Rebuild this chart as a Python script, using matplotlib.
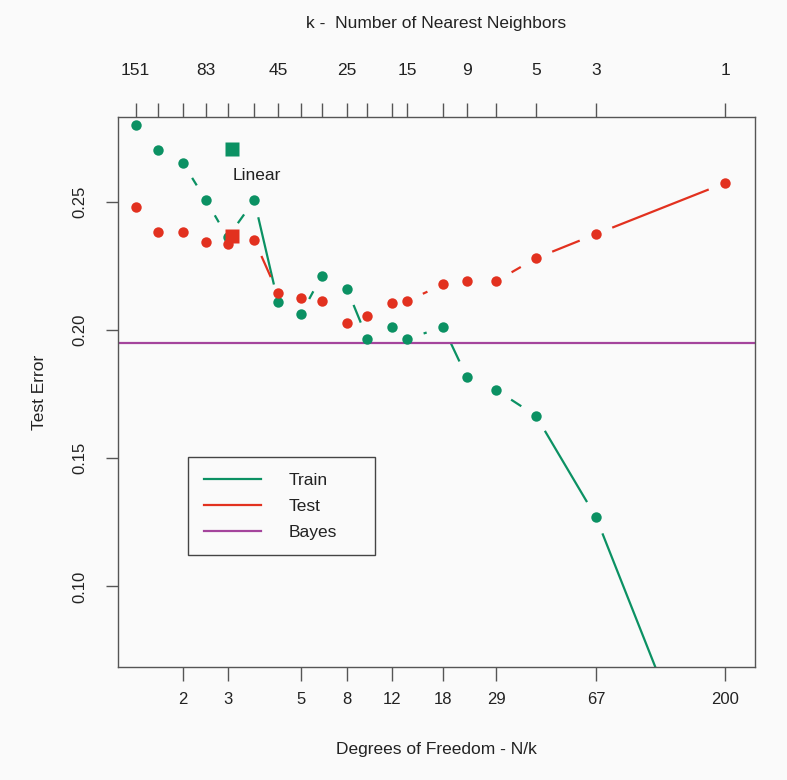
import numpy as np
import matplotlib
matplotlib.use('Agg')
import matplotlib.pyplot as plt
from matplotlib.lines import Line2D

plt.rcParams['font.family'] = ['Liberation Sans', 'DejaVu Sans']

N = 200
k_values = [151, 125, 101, 83, 69, 55, 45, 37, 31, 25, 21, 17, 15, 11, 9, 7, 5, 3, 1]
train_err = [0.280, 0.270, 0.265, 0.2505, 0.236, 0.2505, 0.211, 0.206, 0.221, 0.216,
             0.1965, 0.201, 0.1965, 0.201, 0.1815, 0.1765, 0.1665, 0.127, 0.0]
test_err = [0.2477, 0.238, 0.2382, 0.2341, 0.2333, 0.235, 0.2143, 0.2124, 0.2112, 0.2027,
            0.2055, 0.2103, 0.2112, 0.2177, 0.219, 0.219, 0.2279, 0.2373, 0.2572]
linear_df = 3
linear_train = 0.2704
linear_test = 0.2365
bayes_err = 0.195

top_labels = [151, 83, 45, 25, 15, 9, 5, 3, 1]
bottom_k = [101, 69, 37, 25, 17, 11, 7, 3, 1]
bottom_labels = ['2', '3', '5', '8', '12', '18', '29', '67', '200']

green = '#0b9163'
red = '#e2311f'
purple = '#a4449c'
frame = '#555555'

df = np.array([N / k for k in k_values])

fig = plt.figure(figsize=(7.87, 7.80), dpi=100, facecolor='#fafafa')
ax = fig.add_axes([0.150, 0.1449, 0.809, 0.705])
ax.set_facecolor('#fafafa')
ax.set_xscale('log')
ax.set_xlim(1.14, 257.6)
ax.set_ylim(0.0686, 0.2829)


def gapped(x, y, color, gap=17.5):
    # R type="b": segments between points, cut short around each point
    pts = ax.transData.transform(np.column_stack([x, y]))
    inv = ax.transData.inverted()
    for p, q in zip(pts[:-1], pts[1:]):
        d = q - p
        L = np.hypot(*d)
        if L <= 2 * gap + 2:
            continue
        u = d / L
        a, b = inv.transform([p + u * gap, q - u * gap])
        ax.plot([a[0], b[0]], [a[1], b[1]], color=color, lw=1.6, solid_capstyle='butt', zorder=2)


gapped(df, train_err, green)
gapped(df, test_err, red)
ax.axhline(bayes_err, color=purple, lw=1.6, zorder=2)

ax.plot(df, train_err, 'o', color=green, ms=7.5, mec='none', zorder=3)
ax.plot(df, test_err, 'o', color=red, ms=7.5, mec='none', zorder=4)
ax.plot([linear_df], [linear_train], 's', color=green, ms=10, mec='none', zorder=5)
ax.plot([linear_df], [linear_test], 's', color=red, ms=10, mec='none', zorder=5)
ax.text(linear_df * 1.01, 0.2600, 'Linear', fontsize=12.5, ha='left', va='center', color='#222222')

for s in ax.spines.values():
    s.set_color(frame)
    s.set_linewidth(1.0)

ax.set_xticks([N / k for k in bottom_k])
ax.set_xticklabels(bottom_labels)
ax.minorticks_off()
ax.set_yticks([0.10, 0.15, 0.20, 0.25])
ax.set_yticklabels(['0.10', '0.15', '0.20', '0.25'], rotation=90, va='center')
ax.tick_params(axis='x', length=10, width=1, color=frame, pad=8, labelsize=12, labelcolor='#222222')
ax.tick_params(axis='y', length=9, width=1, color=frame, pad=13, labelsize=12, labelcolor='#222222')

ax2 = ax.twiny()
ax2.set_xscale('log')
ax2.set_xlim(ax.get_xlim())
ax2.set_xticks(df)
ax2.set_xticklabels([str(k) if k in top_labels else '' for k in k_values])
ax2.minorticks_off()
ax2.tick_params(axis='x', length=10, width=1, color=frame, pad=18, labelsize=12.5, labelcolor='#222222')
for s in ax2.spines.values():
    s.set_visible(False)

ax.set_xlabel('Degrees of Freedom - N/k', fontsize=12.5, labelpad=25, color='#222222')
ax.set_ylabel('Test Error', fontsize=12.5, labelpad=18, color='#222222')
ax2.set_xlabel('k -  Number of Nearest Neighbors', fontsize=12.5, labelpad=25, color='#222222')

handles = [Line2D([], [], color=green, lw=1.6),
           Line2D([], [], color=red, lw=1.6),
           Line2D([], [], color=purple, lw=1.6)]
leg = ax.legend(handles, ['Train', 'Test', 'Bayes'], loc='upper left', mode='expand',
                bbox_to_anchor=(0.2389, 0.2859, 0.2376, 0.1282), bbox_transform=fig.transFigure,
                fontsize=12.5, handlelength=3.3, handletextpad=1.6, labelspacing=0.62,
                borderpad=0.9, fancybox=False, framealpha=1, borderaxespad=0)
leg.get_frame().set_edgecolor('#444444')
leg.get_frame().set_facecolor('#fafafa')
leg.get_frame().set_linewidth(1.0)
for t in leg.get_texts():
    t.set_color('#222222')

fig.savefig('out.png', dpi=100, facecolor=fig.get_facecolor())
